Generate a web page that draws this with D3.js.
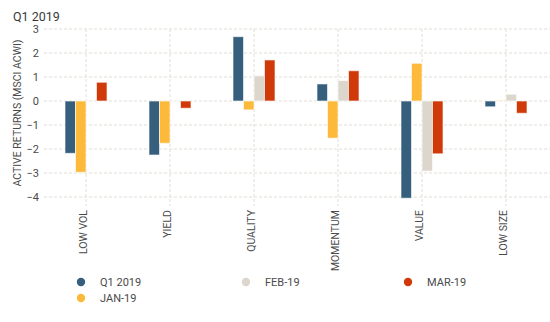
<!DOCTYPE html>
<meta charset="utf-8">
<script src="https://d3js.org/d3.v7.min.js"></script>
<style>
  body { margin: 0; background: #fff; }
  text { font-family: Roboto, "DejaVu Sans", sans-serif; fill: #4a4a4a; }
</style>
<div id="chart"></div>
<script>

// factor returns, active vs MSCI ACWI
var factors = ["LOW VOL", "YIELD", "QUALITY", "MOMENTUM", "VALUE", "LOW SIZE"];
var seriesNames = ["Q1 2019", "JAN-19", "FEB-19", "MAR-19"];
var seriesColors = ["#355f7d", "#fdb93a", "#dcd6cd", "#d03a0a"];

var q1_2019 = [-2.18, -2.25, 2.68, 0.71, -4.05, -0.24];
var jan19   = [-2.97, -1.76, -0.37, -1.55, 1.57, 0.02];
var feb19   = [0.02, 0.02, 1.05, 0.85, -2.92, 0.28];
var mar19   = [0.78, -0.30, 1.71, 1.26, -2.20, -0.51];

var yTicks = [3, 2, 1, 0, -1, -2, -3, -4];

var allSeries = [q1_2019, jan19, feb19, mar19];

var W = 550, H = 322;
var plot = {left: 44, right: 548, top: 29, bottom: 197};

var svg = d3.select("#chart").append("svg")
    .attr("width", W)
    .attr("height", H);

// title
svg.append("text").attr("x", 13).attr("y", 21).text("Q1 2019")
    .style("font-size", "12.5px").style("fill", "#3a3a3a");

var x = d3.scaleBand()
    .domain(factors)
    .range([plot.left, plot.right]);

var xInner = d3.scaleBand()
    .domain(seriesNames)
    .range([0, 42]);

var y = d3.scaleLinear()
    .domain([-4, 3])
    .range([plot.bottom, plot.top]);

// horizontal grid
svg.append("g")
    .selectAll("line")
    .data(yTicks)
    .join("line")
    .attr("x1", plot.left)
    .attr("x2", W)
    .attr("y1", d => y(d))
    .attr("y2", d => y(d))
    .attr("stroke", "#e3ded6")
    .attr("stroke-dasharray", "3,2");

// vertical grid at each factor
svg.append("g")
    .selectAll("line")
    .data(factors)
    .join("line")
    .attr("x1", d => x(d) + x.bandwidth() / 2)
    .attr("x2", d => x(d) + x.bandwidth() / 2)
    .attr("y1", plot.top)
    .attr("y2", 206)
    .attr("stroke", "#e3ded6")
    .attr("stroke-dasharray", "3,2");

// y axis labels
var yAxis = svg.append("g")
    .attr("transform", `translate(${plot.left - 5},0)`)
    .call(d3.axisLeft(y).tickValues(yTicks).tickSize(0).tickPadding(0)
        .tickFormat(d => d < 0 ? "\u2212" + Math.abs(d) : d));
yAxis.select(".domain").remove();
yAxis.selectAll("text").style("font-size", "11px").style("font-family", "Roboto, sans-serif").attr("fill", "#4a4a4a");

svg.append("text")
    .attr("transform", "translate(21,113) rotate(-90)")
    .attr("text-anchor", "middle")
    .text("ACTIVE RETURNS (MSCI ACWI)")
    .style("font-size", "10.5px");

// bars
var rows = [];
factors.forEach(function (f, i) {
    seriesNames.forEach(function (s, j) {
        rows.push({factor: f, series: s, value: allSeries[j][i], color: seriesColors[j]});
    });
});

var groupOffset = (x.bandwidth() - 42) / 2;

svg.append("g")
    .selectAll("rect")
    .data(rows)
    .join("rect")
    .attr("x", d => x(d.factor) + groupOffset + xInner(d.series))
    .attr("width", xInner.bandwidth())
    .attr("y", d => y(Math.max(0, d.value)))
    .attr("height", d => Math.abs(y(d.value) - y(0)))
    .attr("fill", d => d.color)
    .attr("stroke", "rgba(255,255,255,0.6)")
    .attr("stroke-width", 1);

// category labels
svg.append("g")
    .selectAll("text")
    .data(factors)
    .join("text")
    .attr("transform", d => `translate(${x(d) + x.bandwidth() / 2 + 0.5},210) rotate(-90)`)
    .attr("text-anchor", "end")
    .text(d => d)
    .style("font-size", "10.5px");

// legend
var legendPos = [
    {cx: 81, cy: 282},
    {cx: 81, cy: 298},
    {cx: 246, cy: 282},
    {cx: 408, cy: 282}
];

var legend = svg.append("g")
    .selectAll("g")
    .data(seriesNames)
    .join("g")
    .attr("transform", (d, i) => `translate(${legendPos[i].cx},${legendPos[i].cy})`);

legend.append("circle")
    .attr("r", 4.2)
    .attr("fill", (d, i) => seriesColors[i]);

legend.append("text")
    .attr("x", 19)
    .attr("dy", "0.35em")
    .text(d => d)
    .style("font-size", "11px");

</script>
